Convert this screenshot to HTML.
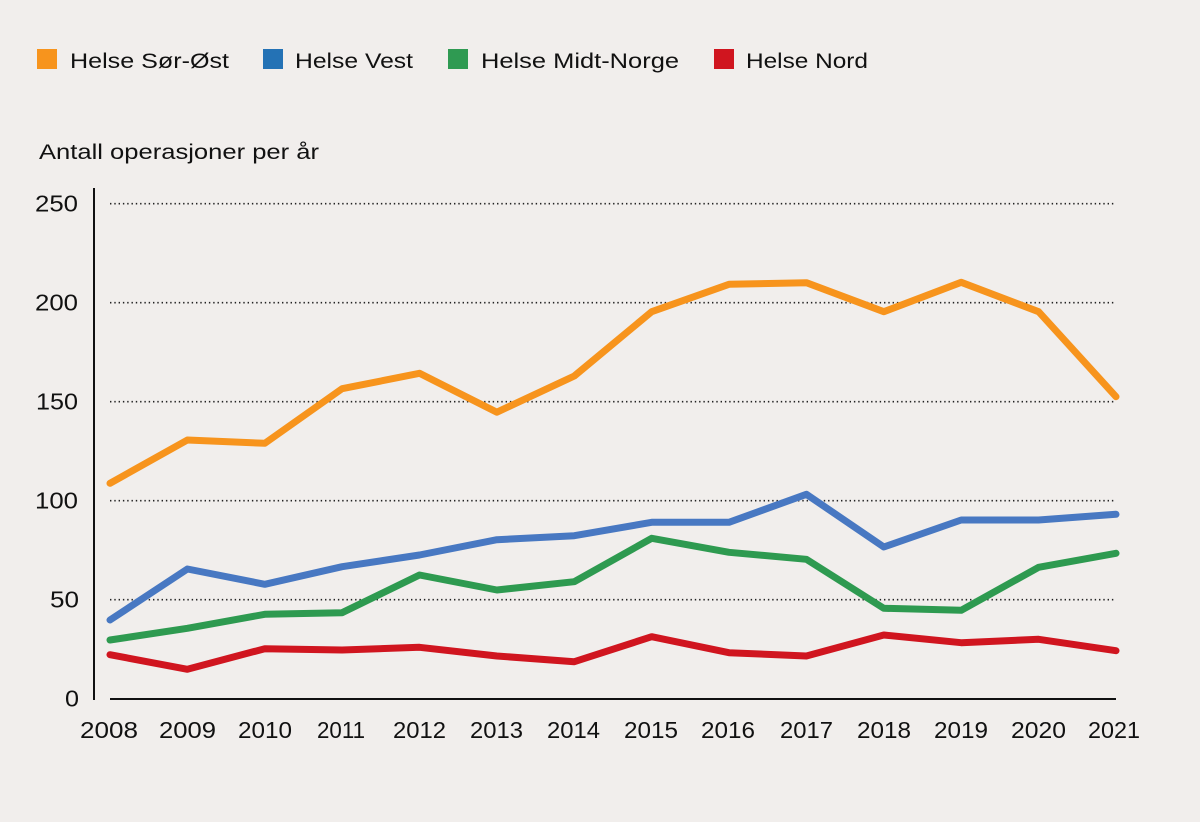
<!DOCTYPE html>
<html>
<head>
<meta charset="utf-8">
<style>
  html, body { margin:0; padding:0; background:#f1eeec; }
  svg { display:block; }
  text { font-family: "Liberation Sans", "DejaVu Sans", sans-serif; fill:#111; }
</style>
</head>
<body>
<svg width="1200" height="822" viewBox="0 0 1200 822" xmlns="http://www.w3.org/2000/svg">
  <rect x="0" y="0" width="1200" height="822" fill="#f1eeec"/>

  <!-- Legend -->
  <rect x="37" y="49" width="20" height="20" fill="#f7941d"/>
  <text x="70" y="68" font-size="21" textLength="159" lengthAdjust="spacingAndGlyphs">Helse Sør-Øst</text>
  <rect x="263" y="49" width="20" height="20" fill="#2472b5"/>
  <text x="295" y="68" font-size="21" textLength="118" lengthAdjust="spacingAndGlyphs">Helse Vest</text>
  <rect x="448" y="49" width="20" height="20" fill="#2f9a52"/>
  <text x="481" y="68" font-size="21" textLength="198" lengthAdjust="spacingAndGlyphs">Helse Midt-Norge</text>
  <rect x="714" y="49" width="20" height="20" fill="#d0151f"/>
  <text x="746" y="68" font-size="21" textLength="122" lengthAdjust="spacingAndGlyphs">Helse Nord</text>

  <!-- Axis title -->
  <text x="39" y="159" font-size="21.5" textLength="280" lengthAdjust="spacingAndGlyphs">Antall operasjoner per år</text>

  <!-- Gridlines -->
  <g stroke="#222" stroke-width="1.6" stroke-dasharray="1.4 2.9" fill="none">
    <line x1="110" y1="203.7" x2="1116" y2="203.7"/>
    <line x1="110" y1="302.7" x2="1116" y2="302.7"/>
    <line x1="110" y1="401.7" x2="1116" y2="401.7"/>
    <line x1="110" y1="500.7" x2="1116" y2="500.7"/>
    <line x1="110" y1="599.7" x2="1116" y2="599.7"/>
  </g>

  <!-- Axes -->
  <line x1="94" y1="188" x2="94" y2="700" stroke="#111" stroke-width="2"/>
  <line x1="110" y1="699" x2="1116" y2="699" stroke="#111" stroke-width="2"/>

  <!-- Y labels -->
  <g font-size="23">
    <text x="35" y="211.5" textLength="43" lengthAdjust="spacingAndGlyphs">250</text>
    <text x="35" y="310.5" textLength="43" lengthAdjust="spacingAndGlyphs">200</text>
    <text x="36" y="409.5" textLength="42" lengthAdjust="spacingAndGlyphs">150</text>
    <text x="35" y="508.5" textLength="43" lengthAdjust="spacingAndGlyphs">100</text>
    <text x="50" y="607.5" textLength="29" lengthAdjust="spacingAndGlyphs">50</text>
    <text x="65" y="706.5" textLength="14" lengthAdjust="spacingAndGlyphs">0</text>
  </g>

  <!-- X labels -->
  <g font-size="23">
    <text x="80" y="738" textLength="58" lengthAdjust="spacingAndGlyphs">2008</text>
    <text x="159" y="738" textLength="57" lengthAdjust="spacingAndGlyphs">2009</text>
    <text x="238" y="738" textLength="54" lengthAdjust="spacingAndGlyphs">2010</text>
    <text x="317" y="738" textLength="48" lengthAdjust="spacingAndGlyphs">2011</text>
    <text x="393" y="738" textLength="53" lengthAdjust="spacingAndGlyphs">2012</text>
    <text x="470" y="738" textLength="53" lengthAdjust="spacingAndGlyphs">2013</text>
    <text x="547" y="738" textLength="53" lengthAdjust="spacingAndGlyphs">2014</text>
    <text x="624" y="738" textLength="54" lengthAdjust="spacingAndGlyphs">2015</text>
    <text x="701" y="738" textLength="54" lengthAdjust="spacingAndGlyphs">2016</text>
    <text x="780" y="738" textLength="53" lengthAdjust="spacingAndGlyphs">2017</text>
    <text x="857" y="738" textLength="54" lengthAdjust="spacingAndGlyphs">2018</text>
    <text x="934" y="738" textLength="54" lengthAdjust="spacingAndGlyphs">2019</text>
    <text x="1011" y="738" textLength="55" lengthAdjust="spacingAndGlyphs">2020</text>
    <text x="1088" y="738" textLength="52" lengthAdjust="spacingAndGlyphs">2021</text>
  </g>

  <!-- Series -->
  <g fill="none" stroke-width="7" stroke-linejoin="round" stroke-linecap="round">
    <polyline stroke="#d0151f" points="110,654.7 187.4,669.3 264.8,648.7 342.1,650 419.5,647.3 496.9,656 574.3,661.7 651.7,636.7 729,652.7 806.4,656 883.8,635 961.2,642.7 1038.6,639.3 1116,650.7"/>
    <polyline stroke="#2e9a50" points="110,640 187.4,628.3 264.8,614.3 342.1,612.7 419.5,575 496.9,590 574.3,581.7 651.7,538.3 729,552.3 806.4,559.3 883.8,608.3 961.2,610.3 1038.6,567.3 1116,553.3"/>
    <polyline stroke="#4878c2" points="110,620 187.4,569 264.8,584.3 342.1,566.7 419.5,555 496.9,539.7 574.3,535.7 651.7,522.3 729,522.3 806.4,494.3 883.8,547 961.2,520 1038.6,520 1116,514.3"/>
    <polyline stroke="#f7941d" points="110,483.3 187.4,440 264.8,443.3 342.1,388.7 419.5,373.3 496.9,412.2 574.3,376 651.7,311.7 729,284.3 806.4,282.7 883.8,311.7 961.2,282.3 1038.6,311.7 1116,396.7"/>
  </g>
</svg>
</body>
</html>
